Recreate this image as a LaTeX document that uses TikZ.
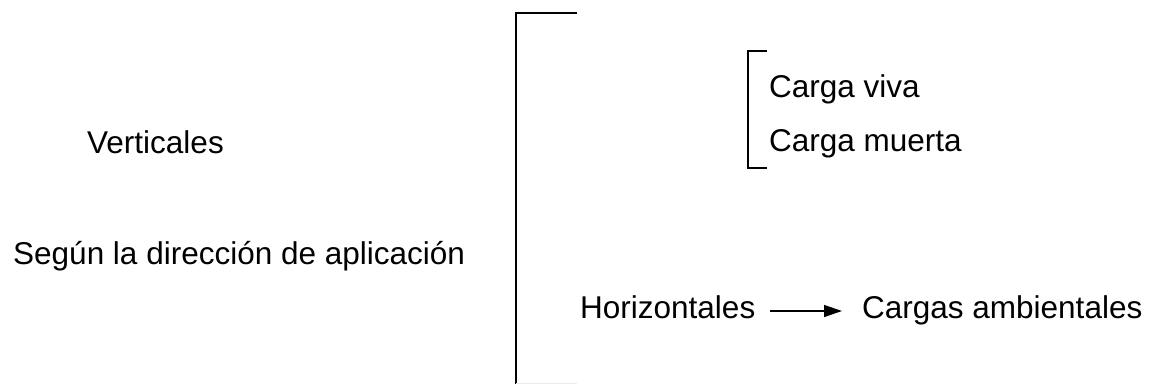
\documentclass[tikz,border=0pt]{standalone}
\usepackage{fontspec}
\setmainfont{Liberation Sans}
\usetikzlibrary{arrows.meta,calc}
\begin{document}
\begin{tikzpicture}[x=1bp,y=-1bp,
  txt/.style={anchor=base west,inner sep=0pt,font=\fontsize{31.5bp}{38bp}\selectfont},
  bigbrace/.style={line width=2.2bp},
  smallbrace/.style={line width=1.2bp},
  link/.style={line width=1.4bp,-{Triangle[length=18bp,width=12bp]}}]
\useasboundingbox (0,0) rectangle (1149,384);

% left column
\node[txt] (vert) at (87,153) {Verticales};
\node[txt] (dir)  at (13,264) {Según la dirección de aplicación};

% main bracket
\draw[bigbrace] (577,13) -- (516,13) -- (516,384);
\draw[black!8,line width=1bp] (516,383.5) -- (577,383.5);

% vertical loads
\draw[smallbrace] (767,51) -- (748,51) -- (748,168) -- (767,168);
\node[txt] (viva)   at (769,97)  {Carga viva};
\node[txt] (muerta) at (769,151) {Carga muerta};

% horizontal loads
\node[txt] (hor) at (580,318) {Horizontales};
\node[txt] (amb) at (862,318) {Cargas ambientales};
\draw[link] ($(hor.base east)+(15,-7)$) -- ($(amb.base west)+(-20,-7)$);
\end{tikzpicture}
\end{document}
